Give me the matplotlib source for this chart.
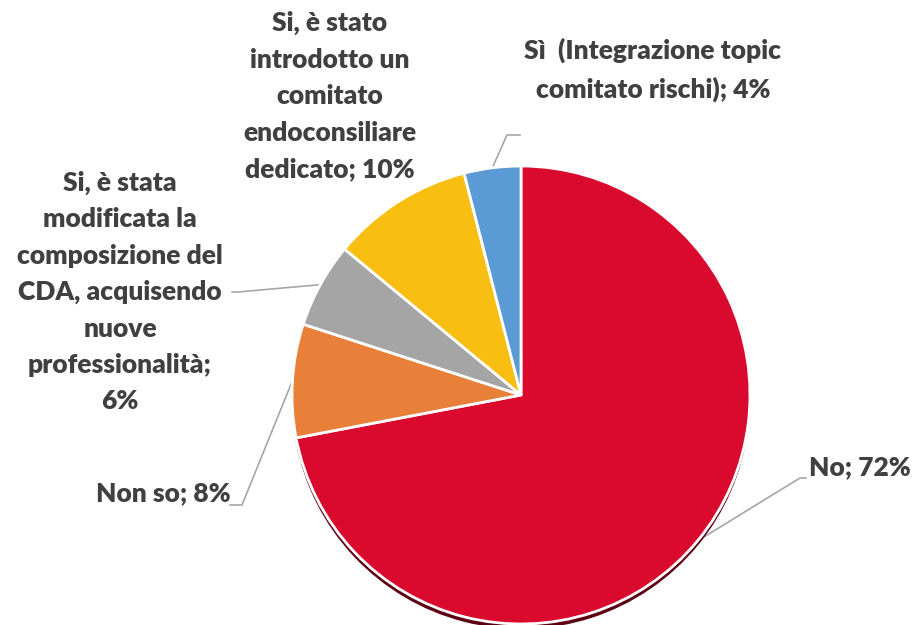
import matplotlib
matplotlib.use("Agg")
import matplotlib.pyplot as plt
import numpy as np

# data
labels = [
    "No; 72%",
    "Non so; 8%",
    "Si, è stata\nmodificata la\ncomposizione del\nCDA, acquisendo\nnuove\nprofessionalità;\n6%",
    "Si, è stato\nintrodotto un\ncomitato\nendoconsiliare\ndedicato; 10%",
    "Sì  (Integrazione topic\ncomitato rischi); 4%",
]
values = [72, 8, 6, 10, 4]
colors = ["#D90A2E", "#E8803A", "#A5A5A5", "#F9BE12", "#5B9BD5"]

# layout (pixel units, y up)
W, H = 919, 625
CX, CY, R = 521, 230, 229
label_pos = [(860, 158), (163, 132), (120, 333), (330, 529), (653, 555)]
elbows = [(800, 147), (242, 120), (238, 333), None, (507, 490)]
line_ends = [(806, 147), (230, 120), (232, 333), None, (520, 490)]

plt.rcParams["font.family"] = ["Lato", "DejaVu Sans"]
fig = plt.figure(figsize=(W / 100, H / 100), dpi=100)
ax = fig.add_axes([0, 0, 1, 1])

# shadow under pie
ax.pie(values, colors=["#5C0012"] * len(values), startangle=90, counterclock=False,
       radius=R, center=(CX, CY - 5), frame=True,
       wedgeprops={"linewidth": 0})
wedges, _ = ax.pie(values, colors=colors, startangle=90, counterclock=False,
                   radius=R, center=(CX, CY), frame=True,
                   wedgeprops={"edgecolor": "white", "linewidth": 2})
ax.set_xlim(0, W)
ax.set_ylim(0, H)
ax.set_aspect("equal")
ax.axis("off")

for w, lab, pos, elb, end in zip(wedges, labels, label_pos, elbows, line_ends):
    ax.text(pos[0], pos[1], lab, ha="center", va="center", fontsize=19,
            fontweight="heavy", color="#404040", linespacing=1.62)
    if elb is None:
        continue
    ang = np.deg2rad((w.theta1 + w.theta2) / 2)
    sx, sy = CX + R * np.cos(ang), CY + R * np.sin(ang)
    ax.plot([sx, elb[0], end[0]], [sy, elb[1], end[1]], color="#A6A6A6", lw=1.2,
            zorder=0.5)

fig.savefig("out.png", dpi=100, facecolor="white")
